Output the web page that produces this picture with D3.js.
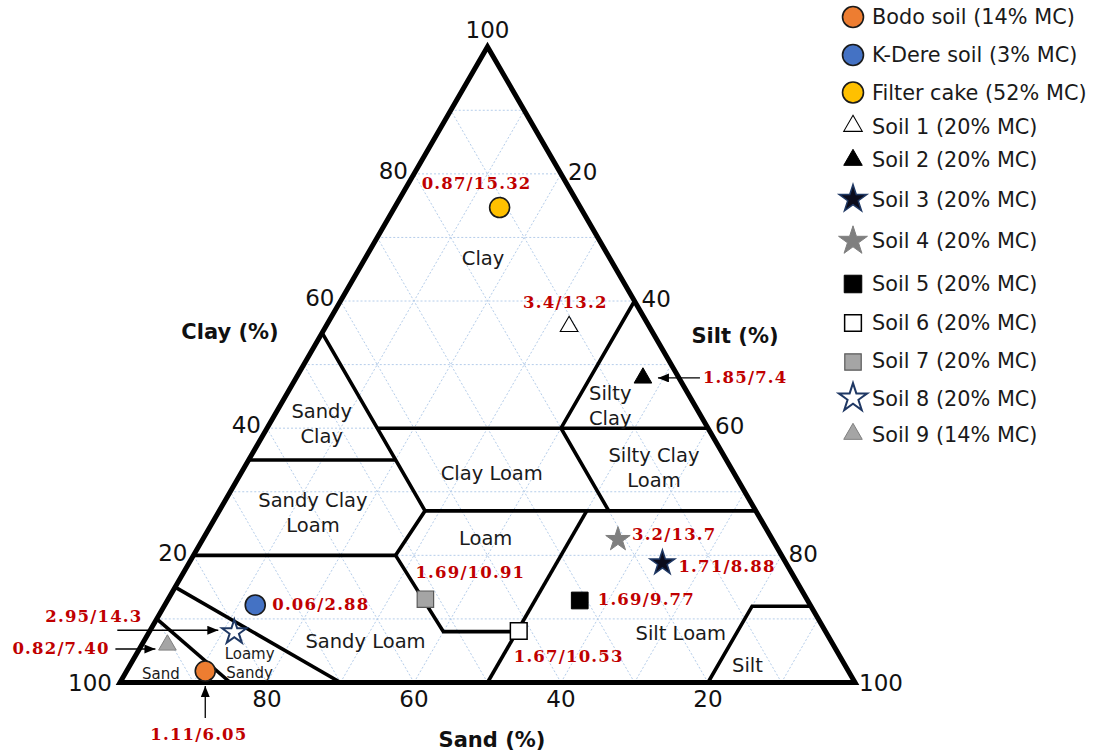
<!DOCTYPE html>
<html>
<head>
<meta charset="utf-8">
<script src="https://cdn.jsdelivr.net/npm/d3@7"></script>
<style>
  html, body { margin: 0; padding: 0; background: #ffffff; }
  svg { display: block; }
</style>
</head>
<body>
<svg id="chart" width="1099" height="752"></svg>
<script>
// ---- Samples: particle-size fractions (%) ----
const sampleNames = ["Bodo soil", "K-Dere soil", "Filter cake", "Soil 1", "Soil 2", "Soil 3",
                     "Soil 4", "Soil 5", "Soil 6", "Soil 7", "Soil 8", "Soil 9"];
const moistureContent = [14, 3, 52, 20, 20, 20, 20, 20, 20, 20, 20, 14];
const clayPct = [1.8, 12.2, 74.7, 56.0, 47.9, 18.8, 22.5, 12.9, 8.1, 13.1, 7.9, 5.9];
const siltPct = [10.7, 12.3, 14.3, 33.1, 47.2, 64.4, 56.5, 56.1, 50.2, 35.0, 11.6, 3.5];
const sandPct = [87.5, 75.5, 11.0, 10.9, 4.9, 16.8, 21.0, 31.0, 41.7, 51.9, 80.5, 90.6];
const valueLabels = ["1.11/6.05", "0.06/2.88", "0.87/15.32", "3.4/13.2", "1.85/7.4", "1.71/8.88",
                     "3.2/13.7", "1.69/9.77", "1.67/10.53", "1.69/10.91", "2.95/14.3", "0.82/7.40"];

// ---- Axis ticks ----
const tickValues = [20, 40, 60, 80];
const cornerTick = "100";

// ---- USDA texture class boundaries, as [clay, silt] vertices ----
const boundaryLines = [
  [[55, 0], [35, 20], [27, 28], [20, 27.5], [8, 40], [8, 50]],
  [[40, 15], [40, 60]],
  [[60, 40], [40, 40], [27, 53]],
  [[27, 28], [27, 73]],
  [[35, 0], [35, 20]],
  [[20, 0], [20, 27.5]],
  [[27, 50], [0, 50]],
  [[0, 80], [12, 80], [12, 88]],
  [[15, 0], [0, 30]],
  [[10, 0], [0, 15]]
];

// ---- Texture class names, anchored at [clay, silt] ----
const classNames = [
  { lines: ["Clay"], at: [66.8, 16.0] },
  { lines: ["Sandy", "Clay"], at: [40.7, 7.1] },
  { lines: ["Clay Loam"], at: [32.95, 34.1] },
  { lines: ["Silty", "Clay"], at: [43.6, 44.9] },
  { lines: ["Silty Clay", "Loam"], at: [33.8, 55.75] },
  { lines: ["Sandy Clay", "Loam"], at: [26.7, 12.9] },
  { lines: ["Loam"], at: [22.7, 38.4] },
  { lines: ["Sandy Loam"], at: [6.6, 30.1] },
  { lines: ["Silt Loam"], at: [7.8, 72.4] },
  { lines: ["Silt"], at: [2.75, 84.0] }
];
const smallClassNames = [
  { lines: ["Loamy", "Sandy"], at: [3.07, 16.1] },
  { lines: ["Sand"], at: [1.45, 4.83] }
];

// ---- Marker styles ----
const markerStyle = [
  { type: d3.symbolCircle, size: 314, fill: "#ED7D31", stroke: "#1a1a1a", sw: 1.6 },
  { type: d3.symbolCircle, size: 314, fill: "#4472C4", stroke: "#1a1a1a", sw: 1.6 },
  { type: d3.symbolCircle, size: 314, fill: "#FFC000", stroke: "#1a1a1a", sw: 1.6 },
  { type: d3.symbolTriangle, size: 135, fill: "#ffffff", stroke: "#000000", sw: 1.1 },
  { type: d3.symbolTriangle, size: 135, fill: "#000000", stroke: "#000000", sw: 1 },
  { type: d3.symbolStar, size: 190, fill: "#0b0c1c", stroke: "#1F3864", sw: 1.5 },
  { type: d3.symbolStar, size: 185, fill: "#7f7f7f", stroke: "#7f7f7f", sw: 1 },
  { type: d3.symbolSquare, size: 280, fill: "#000000", stroke: "#000000", sw: 1 },
  { type: d3.symbolSquare, size: 280, fill: "#ffffff", stroke: "#000000", sw: 1.5 },
  { type: d3.symbolSquare, size: 270, fill: "#A5A5A5", stroke: "#595959", sw: 1.2 },
  { type: d3.symbolStar, size: 185, fill: "#ffffff", stroke: "#1F3864", sw: 2 },
  { type: d3.symbolTriangle, size: 135, fill: "#A5A5A5", stroke: "#808080", sw: 1 }
];
// value label offset from its marker [dx, dy], and optional leader arrow [x1, y1, x2, y2]
const labelOffset = [[-55, 63], [17, -1], [-78, -24], [-46, -24], [60, -1], [16, 3],
                     [14, -5], [18, -1], [-5, 25], [-10, -27], [-189, -16], [-155, 3]];
const leaderArrow = [[0, 47, 0, 15], null, null, null, [57, 0, 15, 0], null,
                     null, null, null, null, [-117, -2, -16, -2], [-52, 4, -12, 4]];
const legendRowY = [17, 55, 92.5, 126, 160, 199, 241, 284, 323, 362, 398, 434];
const legendTextY = [17, 55, 92.5, 126.5, 160, 200, 241, 284, 323, 361, 399, 435];
const legendMarkerScale = [1.1, 1.1, 1.1, 1.1, 1.1, 1.25, 1.4, 1.1, 1.0, 1.0, 1.35, 1.1];

// ---- Ternary projection (sand at left, silt at right, clay at top) ----
const xScale = d3.scaleLinear().domain([0, 100]).range([120, 855]);
const yScale = d3.scaleLinear().domain([0, 100]).range([682.5, 46.7]);
const project = (clay, silt) => [xScale(silt + clay / 2), yScale(clay)];

const svg = d3.select("#chart");
const lineGen = d3.line();

// Dotted 10% grid in three directions
const grid = svg.append("g").attr("fill", "none").attr("stroke", "#b5cdea")
  .attr("stroke-width", 1).attr("stroke-dasharray", "2,2");
d3.range(10, 100, 10).forEach(k => {
  grid.append("path").attr("d", lineGen([project(k, 0), project(k, 100 - k)]));
  grid.append("path").attr("d", lineGen([project(0, k), project(100 - k, k)]));
  grid.append("path").attr("d", lineGen([project(0, 100 - k), project(100 - k, 0)]));
});

// Class boundaries
svg.append("g").attr("fill", "none").attr("stroke", "#000").attr("stroke-width", 3.6)
  .attr("stroke-linejoin", "miter")
  .selectAll("path").data(boundaryLines).join("path")
  .attr("d", d => lineGen(d.map(p => project(p[0], p[1]))));

// Outer triangle
svg.append("path")
  .attr("d", lineGen([project(0, 0), project(0, 100), project(100, 0)]) + "Z")
  .attr("fill", "none").attr("stroke", "#000").attr("stroke-width", 5)
  .attr("stroke-linejoin", "miter").attr("stroke-miterlimit", 10);

// Tick labels
const tickFont = "'DejaVu Sans', Verdana, sans-serif";
const ticks = svg.append("g").attr("font-family", tickFont).attr("font-size", 23).attr("fill", "#111");
tickValues.forEach(v => {
  const [lx, ly] = project(v, 0);
  ticks.append("text").attr("x", lx - 6).attr("y", ly - 3).attr("dy", "0.36em")
    .attr("text-anchor", "end").text(v);
  const [rx, ry] = project(100 - v, v);
  ticks.append("text").attr("x", rx + 7).attr("y", ry - 2).attr("dy", "0.36em")
    .attr("text-anchor", "start").text(v);
  const [bx, by] = project(0, 100 - v);
  ticks.append("text").attr("x", bx).attr("y", by + 16.5).attr("dy", "0.36em")
    .attr("text-anchor", "middle").text(v);
});
{
  const [x0, y0] = project(0, 0);
  ticks.append("text").attr("x", x0 - 8).attr("y", y0).attr("dy", "0.36em")
    .attr("text-anchor", "end").text(cornerTick);
  const [x1, y1] = project(0, 100);
  ticks.append("text").attr("x", x1 + 4).attr("y", y1).attr("dy", "0.36em")
    .attr("text-anchor", "start").text(cornerTick);
  const [x2, y2] = project(100, 0);
  ticks.append("text").attr("x", x2).attr("y", y2 - 17).attr("dy", "0.36em")
    .attr("text-anchor", "middle").text(cornerTick);
}

// Axis titles
const titles = svg.append("g").attr("font-family", tickFont).attr("font-size", 21)
  .attr("font-weight", "bold").attr("fill", "#111");
titles.append("text").attr("x", 230).attr("y", 331).attr("dy", "0.36em").attr("text-anchor", "middle").text("Clay (%)");
titles.append("text").attr("x", 735).attr("y", 335).attr("dy", "0.36em").attr("text-anchor", "middle").text("Silt (%)");
titles.append("text").attr("x", 492).attr("y", 739).attr("dy", "0.36em").attr("text-anchor", "middle").text("Sand (%)");

// Texture class names
function drawClassNames(list, size, lineGap) {
  const g = svg.append("g").attr("font-family", tickFont).attr("font-size", size)
    .attr("fill", "#1a1a1a").attr("text-anchor", "middle");
  list.forEach(c => {
    const [cx, cy] = project(c.at[0], c.at[1]);
    const n = c.lines.length;
    c.lines.forEach((t, i) => {
      g.append("text").attr("x", cx).attr("y", cy + (i - (n - 1) / 2) * lineGap)
        .attr("dy", "0.36em").text(t);
    });
  });
}
drawClassNames(classNames, 19.5, 25);
drawClassNames(smallClassNames, 15, 19);

// Arrowhead
svg.append("defs").append("marker")
  .attr("id", "arrowhead").attr("markerUnits", "userSpaceOnUse")
  .attr("markerWidth", 12).attr("markerHeight", 10)
  .attr("refX", 11).attr("refY", 4.5).attr("orient", "auto")
  .append("path").attr("d", "M0,0 L11,4.5 L0,9 Z").attr("fill", "#000");

// Sample markers, value labels and leader arrows
const samples = sampleNames.map((name, i) => ({
  name, i, clay: clayPct[i], silt: siltPct[i], sand: sandPct[i],
  pos: project(clayPct[i], siltPct[i])
}));

const arrows = svg.append("g").attr("stroke", "#000").attr("stroke-width", 1.3);
samples.forEach(s => {
  const a = leaderArrow[s.i];
  if (!a) return;
  arrows.append("line")
    .attr("x1", s.pos[0] + a[0]).attr("y1", s.pos[1] + a[1])
    .attr("x2", s.pos[0] + a[2]).attr("y2", s.pos[1] + a[3])
    .attr("marker-end", "url(#arrowhead)");
});

svg.append("g").selectAll("path").data(samples).join("path")
  .attr("transform", d => `translate(${d.pos[0]},${d.pos[1]})`)
  .attr("d", d => d3.symbol().type(markerStyle[d.i].type).size(markerStyle[d.i].size)())
  .attr("fill", d => markerStyle[d.i].fill)
  .attr("stroke", d => markerStyle[d.i].stroke)
  .attr("stroke-width", d => markerStyle[d.i].sw);

svg.append("g").attr("font-family", "'DejaVu Serif', 'Liberation Serif', serif")
  .attr("font-size", 16.5).attr("font-weight", "bold").attr("fill", "#C00000")
  .attr("letter-spacing", "1.2px")
  .selectAll("text").data(samples).join("text")
  .attr("x", d => d.pos[0] + labelOffset[d.i][0])
  .attr("y", d => d.pos[1] + labelOffset[d.i][1])
  .attr("dy", "0.36em")
  .text(d => valueLabels[d.i]);

// Legend
const legend = svg.append("g");
samples.forEach(s => {
  const st = markerStyle[s.i];
  legend.append("path")
    .attr("transform", `translate(853,${legendRowY[s.i]})`)
    .attr("d", d3.symbol().type(st.type).size(st.size * legendMarkerScale[s.i])())
    .attr("fill", st.fill).attr("stroke", st.stroke).attr("stroke-width", st.sw);
  legend.append("text")
    .attr("x", 872).attr("y", legendTextY[s.i]).attr("dy", "0.36em")
    .attr("font-family", tickFont).attr("font-size", 20.8).attr("fill", "#1a1a1a")
    .text(`${s.name} (${moistureContent[s.i]}% MC)`);
});
</script>
</body>
</html>
